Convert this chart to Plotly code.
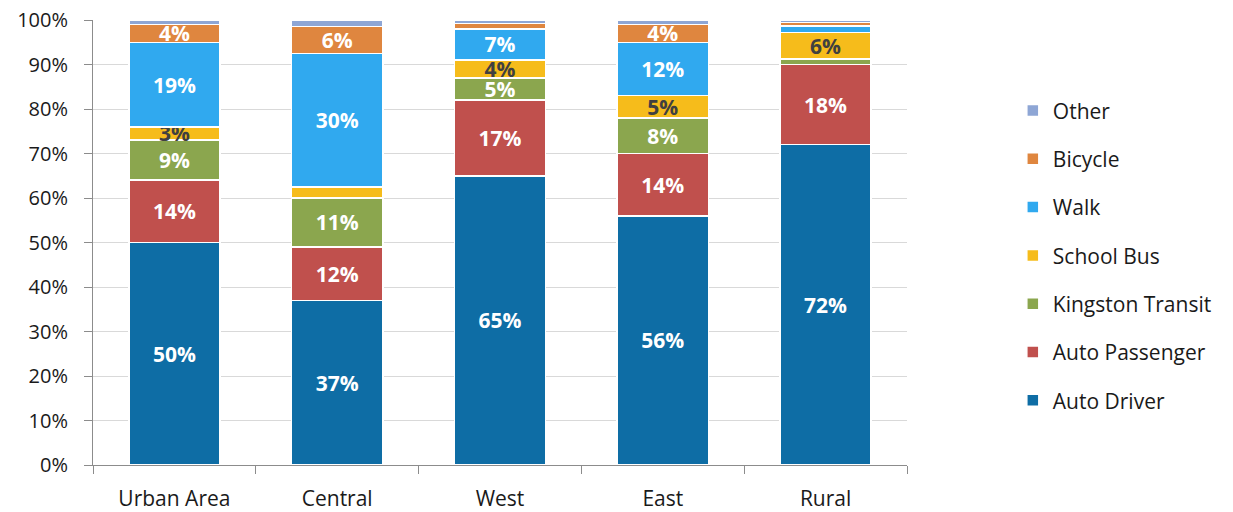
import plotly.graph_objects as go

# Trip mode share by area (percent of trips)
areas = ["Urban Area", "Central", "West", "East", "Rural"]

auto_driver = [50, 37, 65, 56, 72]
auto_passenger = [14, 12, 17, 14, 18]
kingston_transit = [9, 11, 5, 8, 1.2]
school_bus = [3, 2.5, 4, 5, 6]
walk = [19, 30, 7, 12, 1.5]
bicycle = [4, 6, 1.2, 4, 0.7]
other = [1, 1.5, 0.8, 1, 0.6]

y_ticks = [0, 10, 20, 30, 40, 50, 60, 70, 80, 90, 100]
y_tick_labels = [f"{t}%" for t in y_ticks]

series = [
    ("Auto Driver", auto_driver, "#0E6DA5", "white"),
    ("Auto Passenger", auto_passenger, "#C0504D", "white"),
    ("Kingston Transit", kingston_transit, "#8BA64E", "white"),
    ("School Bus", school_bus, "#F6BC1B", "#404040"),
    ("Walk", walk, "#30A9EF", "white"),
    ("Bicycle", bicycle, "#DF863F", "white"),
    ("Other", other, "#8EA6D5", "white"),
]

FONT = "Open Sans"
LABEL_SIZE = 21

fig = go.Figure()
n = len(series)
for i, (name, vals, color, txt_color) in enumerate(series):
    labels = [f"{v:.0f}%" if v >= 3 else "" for v in vals]
    fig.add_trace(go.Bar(
        name=name,
        x=areas,
        y=vals,
        legendgroup=name,
        legendrank=n - i,  # top of the stack listed first
        marker=dict(color=color, line=dict(color="white", width=1.5)),
        text=labels,
        textposition="inside",
        insidetextanchor="middle",
        textangle=0,
        textfont=dict(family=FONT, size=LABEL_SIZE, color=txt_color, weight="bold"),
        cliponaxis=False,
        hoverinfo="skip",
    ))

fig.update_layout(
    barmode="stack",
    bargap=0.44,
    width=1233,
    height=512,
    margin=dict(l=93, r=326, t=20, b=47, autoexpand=False),
    plot_bgcolor="white",
    paper_bgcolor="white",
    font=dict(family=FONT, size=18, color="#404040"),
    uniformtext=dict(minsize=LABEL_SIZE, mode="show"),
    legend=dict(
        traceorder="grouped",
        tracegroupgap=18,
        x=1.13,
        xanchor="left",
        y=0.47,
        yanchor="middle",
        font=dict(family=FONT, size=21, color="#1a1a1a"),
        itemwidth=30,
    ),
    showlegend=True,
)

fig.update_yaxes(
    range=[0, 100],
    tickvals=y_ticks,
    ticktext=y_tick_labels,
    showgrid=True,
    gridcolor="#D9D9D9",
    gridwidth=1,
    showline=True,
    linecolor="#8C8C8C",
    linewidth=1,
    ticks="outside",
    ticklen=8,
    tickcolor="#8C8C8C",
    ticklabelstandoff=12,
    tickfont=dict(family=FONT, size=20, color="#1a1a1a"),
    zeroline=False,
    automargin=False,
)
fig.update_xaxes(
    showline=True,
    linecolor="#8C8C8C",
    linewidth=1,
    ticks="outside",
    tickson="boundaries",
    ticklen=8,
    tickcolor="#8C8C8C",
    ticklabelstandoff=15,
    tickfont=dict(family=FONT, size=21, color="#1a1a1a"),
    automargin=False,
)

fig.write_html("out.html")
